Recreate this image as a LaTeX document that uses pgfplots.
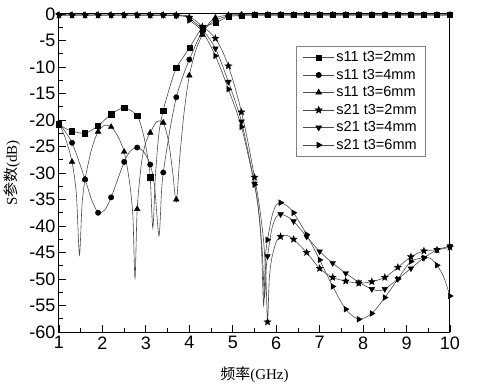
\documentclass[border=0pt]{standalone}
\usepackage{fontspec}
\setmainfont{Liberation Serif}
\setsansfont{Liberation Sans}
\newfontfamily\cjk{Noto Sans CJK SC}
\usepackage{pgfplots}
\pgfplotsset{compat=1.18}
\usetikzlibrary{plotmarks}

\pgfdeclareplotmark{fstar}{%
  \pgfpathmoveto{\pgfpointpolar{90}{1.2\pgfplotmarksize}}%
  \pgfpathlineto{\pgfpointpolar{126}{0.5\pgfplotmarksize}}%
  \pgfpathlineto{\pgfpointpolar{162}{1.2\pgfplotmarksize}}%
  \pgfpathlineto{\pgfpointpolar{198}{0.5\pgfplotmarksize}}%
  \pgfpathlineto{\pgfpointpolar{234}{1.2\pgfplotmarksize}}%
  \pgfpathlineto{\pgfpointpolar{270}{0.5\pgfplotmarksize}}%
  \pgfpathlineto{\pgfpointpolar{306}{1.2\pgfplotmarksize}}%
  \pgfpathlineto{\pgfpointpolar{342}{0.5\pgfplotmarksize}}%
  \pgfpathlineto{\pgfpointpolar{18}{1.2\pgfplotmarksize}}%
  \pgfpathlineto{\pgfpointpolar{54}{0.5\pgfplotmarksize}}%
  \pgfpathclose
  \pgfusepathqfillstroke}

\pgfplotsset{
  ln/.style={black!70, line width=0.6pt, smooth, tension=0.45, forget plot},
  mk/.style={only marks, black, fill=black, forget plot},
  mA/.style={mark=square*, mark size=2.6pt},
  mB/.style={mark=*, mark size=2.7pt},
  mC/.style={mark=triangle*, mark size=3.3pt},
  mD/.style={mark=fstar, mark size=3pt},
  mE/.style={mark=triangle*, mark size=3.3pt, mark options={rotate=180}},
  mF/.style={mark=triangle*, mark size=3.3pt, mark options={rotate=-90}},
}

\begin{document}
\begin{tikzpicture}
\begin{axis}[
  at={(0,0)}, anchor=south west,
  scale only axis, width=391pt, height=318pt,
  xmin=1, xmax=10, ymin=-60, ymax=0,
  xtick={1,2,...,10}, ytick={-60,-55,...,0},
  minor x tick num=1, minor y tick num=1,
  xtick pos=bottom, ytick pos=left,
  tick align=inside,
  major tick length=7pt, minor tick length=4pt,
  every tick/.style={black, line width=0.8pt},
  axis line style={line width=1pt},
  tick label style={font=\sffamily\fontsize{18}{20}\selectfont},
  xticklabel style={yshift=-1pt},
  /pgf/number format/assume math mode=true,
  xlabel={{\cjk 频率}(GHz)},
  ylabel={S{\cjk 参数}(dB)},
  every axis x label/.style={at={(axis description cs:0.5,-0.135)}, anchor=center, font=\fontsize{15}{17}\selectfont},
  every axis y label/.style={at={(axis description cs:-0.120,0.5)}, anchor=center, rotate=90, font=\fontsize{15}{17}\selectfont},
  legend style={at={(axis description cs:0.9386,0.8994)}, anchor=north east,
    draw=black!50, line width=0.6pt, fill=white,
    font=\sffamily\fontsize{14.5}{16}\selectfont,
    nodes={text height=10.5pt, text depth=2pt},
    row sep=1pt, inner xsep=7pt, inner ysep=3pt},
  legend cell align=left,
  legend image code/.code={\draw[mark repeat=2,mark phase=2,#1] plot coordinates {(0pt,0pt)(15.5pt,0pt)(31pt,0pt)};},
]
\addlegendimage{black!70, line width=0.6pt, mA, mark options={black, fill=black}}
\addlegendentry{s11 t3=2mm}
\addlegendimage{black!70, line width=0.6pt, mB, mark options={black, fill=black}}
\addlegendentry{s11 t3=4mm}
\addlegendimage{black!70, line width=0.6pt, mC, mark options={black, fill=black}}
\addlegendentry{s11 t3=6mm}
\addlegendimage{black!70, line width=0.6pt, mD, mark options={black, fill=black}}
\addlegendentry{s21 t3=2mm}
\addlegendimage{black!70, line width=0.6pt, mE, mark options={black, fill=black, rotate=180}}
\addlegendentry{s21 t3=4mm}
\addlegendimage{black!70, line width=0.6pt, mF, mark options={black, fill=black, rotate=-90}}
\addlegendentry{s21 t3=6mm}

% ---- s11 t3=2mm (lines)
\addplot[ln] coordinates {(1.0,-20.8)(1.15,-21.6)(1.3,-22.1)(1.6,-22.5)(1.9,-21.1)(2.2,-18.9)(2.5,-17.7)(2.8,-19.2)(2.95,-23.0)(3.05,-27.5)(3.1,-30.8)(3.16,-40.4)(3.22,-30.5)(3.3,-22.5)(3.4,-18.2)(3.55,-13.8)(3.7,-10.2)(4.0,-6.4)(4.3,-2.6)(4.6,-1.7)(4.9,-0.5)(5.2,-0.3)(5.5,-0.2)(10.0,-0.2)};
% ---- s11 t3=4mm
\addplot[ln] coordinates {(1.0,-20.6)(1.3,-24.3)(1.6,-31.2)(1.75,-35.0)(1.9,-37.5)(2.05,-37.0)(2.2,-34.6)(2.5,-27.9)(2.65,-25.8)(2.8,-25.2)(2.95,-26.0)(3.1,-28.4)(3.2,-32.5)(3.3,-41.9)(3.36,-33.5)(3.4,-29.9)(3.55,-22.0)(3.7,-15.7)(3.85,-11.8)(4.0,-8.6)(4.3,-3.3)(4.6,-1.2)(4.9,-0.4)(5.2,-0.2)(10.0,-0.2)};
% ---- s11 t3=6mm
\addplot[ln] coordinates {(1.0,-20.6)(1.15,-23.5)(1.3,-27.9)(1.4,-34)(1.47,-45.5)(1.53,-36)(1.6,-31.2)(1.75,-25.5)(1.9,-22.2)(2.05,-21.0)(2.2,-21.3)(2.35,-23.0)(2.5,-26.0)(2.62,-31.5)(2.7,-38)(2.75,-49.9)(2.8,-36.8)(2.9,-28)(3.0,-24.2)(3.1,-22.4)(3.25,-20.3)(3.4,-20.5)(3.52,-24)(3.62,-30)(3.7,-35.5)(3.78,-27)(3.88,-18.5)(4.0,-11.6)(4.15,-6.8)(4.3,-3.9)(4.45,-1.8)(4.6,-0.7)(4.9,-0.2)(5.2,-0.15)(10.0,-0.15)};
% ---- s21 t3=2mm
\addplot[ln] coordinates {(1.0,-0.2)(3.7,-0.2)(4.0,-0.6)(4.15,-1.3)(4.3,-2.4)(4.45,-3.3)(4.6,-4.6)(4.75,-6.8)(4.9,-9.8)(5.05,-13.8)(5.2,-18.5)(5.35,-24.2)(5.5,-30.8)(5.6,-35.5)(5.7,-42)(5.76,-49)(5.8,-58.1)(5.84,-50)(5.9,-46)(6.0,-43)(6.1,-42.0)(6.25,-41.8)(6.4,-42.5)(6.7,-45.0)(7.0,-48.0)(7.3,-49.7)(7.6,-50.4)(7.9,-50.8)(8.2,-50.5)(8.5,-49.7)(8.8,-47.8)(9.1,-45.8)(9.4,-44.7)(9.7,-44.5)(10.0,-44.0)};
% ---- s21 t3=4mm
\addplot[ln] coordinates {(1.0,-0.2)(3.7,-0.3)(4.0,-0.9)(4.3,-2.9)(4.6,-6.5)(4.9,-12.8)(5.2,-20.3)(5.5,-32.0)(5.6,-37.5)(5.68,-45)(5.73,-53.5)(5.77,-48)(5.8,-45.7)(5.9,-40.5)(6.0,-38.3)(6.1,-37.8)(6.25,-38.2)(6.4,-39.1)(6.7,-42.0)(7.0,-44.8)(7.3,-47.0)(7.6,-48.9)(7.9,-50.6)(8.2,-51.9)(8.35,-52.2)(8.5,-51.9)(8.8,-50.0)(9.1,-48.0)(9.4,-46.0)(9.7,-44.5)(10.0,-43.8)};
% ---- s21 t3=6mm
\addplot[ln] coordinates {(1.0,-0.2)(3.7,-0.3)(4.0,-1.2)(4.3,-3.3)(4.6,-7.9)(4.9,-14.2)(5.2,-21.3)(5.5,-32.2)(5.6,-37.5)(5.66,-44)(5.71,-55)(5.75,-46)(5.8,-42.6)(5.9,-38.2)(6.0,-36.0)(6.1,-35.6)(6.25,-36.2)(6.4,-37.5)(6.7,-41.6)(7.0,-46.4)(7.3,-51.4)(7.6,-55.7)(7.9,-57.6)(8.2,-56.5)(8.5,-53.5)(8.8,-50.0)(9.1,-46.7)(9.4,-46.0)(9.55,-46.1)(9.7,-47.4)(9.85,-49.5)(10.0,-53.2)};

% ---- markers every 0.3 GHz
\addplot[mk, mA] coordinates {(1.0,-20.8)(1.3,-22.1)(1.6,-22.5)(1.9,-21.1)(2.2,-18.9)(2.5,-17.7)(2.8,-19.2)(3.1,-30.8)(3.4,-18.2)(3.7,-10.2)(4.0,-6.4)(4.3,-2.6)(4.6,-1.7)(4.9,-0.5)(5.2,-0.3)(5.5,-0.2)(5.8,-0.2)(6.1,-0.2)(6.4,-0.2)(6.7,-0.2)(7.0,-0.2)(7.3,-0.2)(7.6,-0.2)(7.9,-0.2)(8.2,-0.2)(8.5,-0.2)(8.8,-0.2)(9.1,-0.2)(9.4,-0.2)(9.7,-0.2)(10.0,-0.2)};
\addplot[mk, mB] coordinates {(1.0,-20.6)(1.3,-24.3)(1.6,-31.2)(1.9,-37.5)(2.2,-34.6)(2.5,-27.9)(2.8,-25.2)(3.1,-28.4)(3.4,-29.9)(3.7,-15.7)(4.0,-8.6)(4.3,-3.3)(4.6,-1.2)(4.9,-0.4)(5.2,-0.2)(5.5,-0.2)(5.8,-0.2)(6.1,-0.2)(6.4,-0.2)(6.7,-0.2)(7.0,-0.2)(7.3,-0.2)(7.6,-0.2)(7.9,-0.2)(8.2,-0.2)(8.5,-0.2)(8.8,-0.2)(9.1,-0.2)(9.4,-0.2)(9.7,-0.2)(10.0,-0.2)};
\addplot[mk, mC] coordinates {(1.0,-20.6)(1.3,-27.9)(1.6,-31.2)(1.9,-22.2)(2.2,-21.3)(2.5,-26.0)(2.8,-36.8)(3.1,-22.4)(3.4,-20.5)(3.7,-35.0)(4.0,-11.6)(4.3,-3.9)(4.6,-0.7)(4.9,-0.2)(5.2,-0.15)(5.5,-0.15)(5.8,-0.15)(6.1,-0.15)(6.4,-0.15)(6.7,-0.15)(7.0,-0.15)(7.3,-0.15)(7.6,-0.15)(7.9,-0.15)(8.2,-0.15)(8.5,-0.15)(8.8,-0.15)(9.1,-0.15)(9.4,-0.15)(9.7,-0.15)(10.0,-0.15)};
\addplot[mk, mD] coordinates {(1.0,-0.2)(1.3,-0.2)(1.6,-0.2)(1.9,-0.2)(2.2,-0.2)(2.5,-0.2)(2.8,-0.2)(3.1,-0.2)(3.4,-0.2)(3.7,-0.2)(4.0,-0.6)(4.3,-2.4)(4.6,-4.6)(4.9,-9.8)(5.2,-18.5)(5.5,-30.8)(5.8,-58.1)(6.1,-42.0)(6.4,-42.5)(6.7,-45.0)(7.0,-48.0)(7.3,-49.7)(7.6,-50.4)(7.9,-50.8)(8.2,-50.5)(8.5,-49.7)(8.8,-47.8)(9.1,-45.8)(9.4,-44.7)(9.7,-44.5)(10.0,-44.0)};
\addplot[mk, mE] coordinates {(1.0,-0.2)(1.3,-0.2)(1.6,-0.2)(1.9,-0.2)(2.2,-0.2)(2.5,-0.2)(2.8,-0.2)(3.1,-0.2)(3.4,-0.2)(3.7,-0.3)(4.0,-0.9)(4.3,-2.9)(4.6,-6.5)(4.9,-12.8)(5.2,-20.3)(5.5,-32.0)(5.8,-45.7)(6.1,-37.8)(6.4,-39.1)(6.7,-42.0)(7.0,-44.8)(7.3,-47.0)(7.6,-48.9)(7.9,-50.6)(8.2,-51.9)(8.5,-51.9)(8.8,-50.0)(9.1,-48.0)(9.4,-46.0)(9.7,-44.5)(10.0,-43.8)};
\addplot[mk, mF] coordinates {(1.0,-0.2)(1.3,-0.2)(1.6,-0.2)(1.9,-0.2)(2.2,-0.2)(2.5,-0.2)(2.8,-0.2)(3.1,-0.2)(3.4,-0.2)(3.7,-0.3)(4.0,-1.2)(4.3,-3.3)(4.6,-7.9)(4.9,-14.2)(5.2,-21.3)(5.5,-32.2)(5.8,-42.6)(6.1,-35.6)(6.4,-37.5)(6.7,-41.6)(7.0,-46.4)(7.3,-51.4)(7.6,-55.7)(7.9,-57.6)(8.2,-56.5)(8.5,-53.5)(8.8,-50.0)(9.1,-46.7)(9.4,-46.0)(9.7,-47.4)(10.0,-53.2)};
\end{axis}
\pgfresetboundingbox
\path[use as bounding box] (-59pt,-54pt) rectangle (441pt,332pt);
\end{tikzpicture}
\end{document}
